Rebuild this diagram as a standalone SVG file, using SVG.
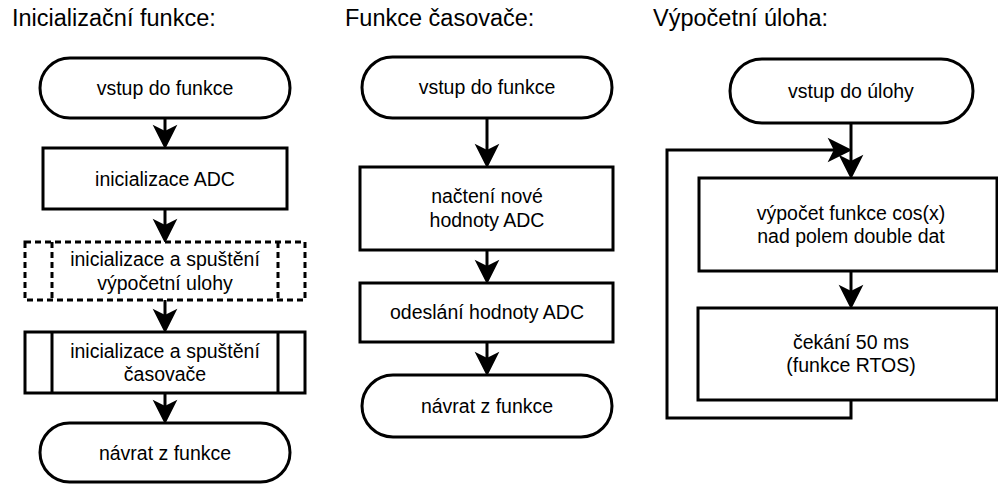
<svg xmlns="http://www.w3.org/2000/svg" width="998" height="484" viewBox="0 0 998 484">
  <style>
    .shape { fill: #ffffff; stroke: #000000; stroke-width: 3; }
    .dashed { stroke-dasharray: 6 4; }
    .edge { fill: none; stroke: #000000; stroke-width: 3; }
    .label { font-family: "Liberation Sans", Arial, Helvetica, sans-serif; font-size: 19.5px; fill: #000000; text-anchor: middle; }
    .title { font-family: "Liberation Sans", Arial, Helvetica, sans-serif; font-size: 23.5px; fill: #000000; }
  </style>
  <defs>
    <!-- classic notched arrowhead; tip sits 13px past the line end -->
    <marker id="arrow" markerUnits="userSpaceOnUse" orient="auto" overflow="visible" markerWidth="30" markerHeight="30" refX="0" refY="0">
      <path d="M13,0 L-5,-9 L-0.5,0 L-5,9 Z" fill="#000000" stroke="#000000" stroke-width="3" stroke-linejoin="miter"/>
    </marker>
  </defs>

  <rect width="998" height="484" fill="#ffffff"/>

  <!-- column titles -->
  <g id="titles">
    <text class="title" x="12" y="26">Inicializační funkce:</text>
    <text class="title" x="345" y="26">Funkce časovače:</text>
    <text class="title" x="653" y="26">Výpočetní úloha:</text>
  </g>

  <!-- connectors -->
  <g id="connectors">
    <path class="edge" d="M165,118 V133" marker-end="url(#arrow)"/>
    <path class="edge" d="M165,209 V227" marker-end="url(#arrow)"/>
    <path class="edge" d="M165,300 V317" marker-end="url(#arrow)"/>
    <path class="edge" d="M165,393 V408" marker-end="url(#arrow)"/>

    <path class="edge" d="M487,118 V152" marker-end="url(#arrow)"/>
    <path class="edge" d="M487,250 V268" marker-end="url(#arrow)"/>
    <path class="edge" d="M487,342 V360" marker-end="url(#arrow)"/>

    <path class="edge" d="M851,123 V163" marker-end="url(#arrow)"/>
    <path class="edge" d="M851,271 V293" marker-end="url(#arrow)"/>
    <path class="edge" d="M851,400 V418 H667 V150 H836" marker-end="url(#arrow)"/>
  </g>

  <!-- initialisation function -->
  <g id="init-start">
    <rect class="shape" x="40" y="58" width="250" height="60" rx="30" ry="30"/>
    <text class="label" x="165" y="95">vstup do funkce</text>
  </g>
  <g id="init-adc">
    <rect class="shape" x="43" y="148" width="244" height="61"/>
    <text class="label" x="165" y="186">inicializace ADC</text>
  </g>
  <g id="init-task">
    <rect class="shape dashed" x="25" y="242" width="280" height="58"/>
    <line class="shape dashed" x1="52" y1="242" x2="52" y2="300"/>
    <line class="shape dashed" x1="278" y1="242" x2="278" y2="300"/>
    <text class="label" x="165" y="266">inicializace a spuštění</text>
    <text class="label" x="165" y="289.5">výpočetní ulohy</text>
  </g>
  <g id="init-timer">
    <rect class="shape" x="25" y="332" width="280" height="61"/>
    <line class="shape" x1="52" y1="332" x2="52" y2="393"/>
    <line class="shape" x1="278" y1="332" x2="278" y2="393"/>
    <text class="label" x="165" y="357.6">inicializace a spuštění</text>
    <text class="label" x="165" y="381">časovače</text>
  </g>
  <g id="init-end">
    <rect class="shape" x="40" y="423" width="250" height="59" rx="29.5" ry="29.5"/>
    <text class="label" x="165" y="459.5">návrat z funkce</text>
  </g>

  <!-- timer function -->
  <g id="timer-start">
    <rect class="shape" x="362" y="57" width="250" height="61" rx="30.5" ry="30.5"/>
    <text class="label" x="487" y="94.3">vstup do funkce</text>
  </g>
  <g id="timer-read">
    <rect class="shape" x="360" y="167" width="253" height="83"/>
    <text class="label" x="487" y="203">načtení nové</text>
    <text class="label" x="487" y="226.5">hodnoty ADC</text>
  </g>
  <g id="timer-send">
    <rect class="shape" x="360" y="283" width="253" height="59"/>
    <text class="label" x="487" y="319.3">odeslání hodnoty ADC</text>
  </g>
  <g id="timer-end">
    <rect class="shape" x="362" y="375" width="250" height="62" rx="31" ry="31"/>
    <text class="label" x="487" y="412.5">návrat z funkce</text>
  </g>

  <!-- computation task -->
  <g id="task-start">
    <rect class="shape" x="730" y="59" width="243" height="64" rx="32" ry="32"/>
    <text class="label" x="851" y="98">vstup do úlohy</text>
  </g>
  <g id="task-compute">
    <rect class="shape" x="699" y="178" width="298" height="93"/>
    <text class="label" x="851" y="220">výpočet funkce cos(x)</text>
    <text class="label" x="851" y="243.4">nad polem double dat</text>
  </g>
  <g id="task-wait">
    <rect class="shape" x="698" y="308" width="299" height="92"/>
    <text class="label" x="851" y="349">čekání 50 ms</text>
    <text class="label" x="851" y="372.4">(funkce RTOS)</text>
  </g>
</svg>
